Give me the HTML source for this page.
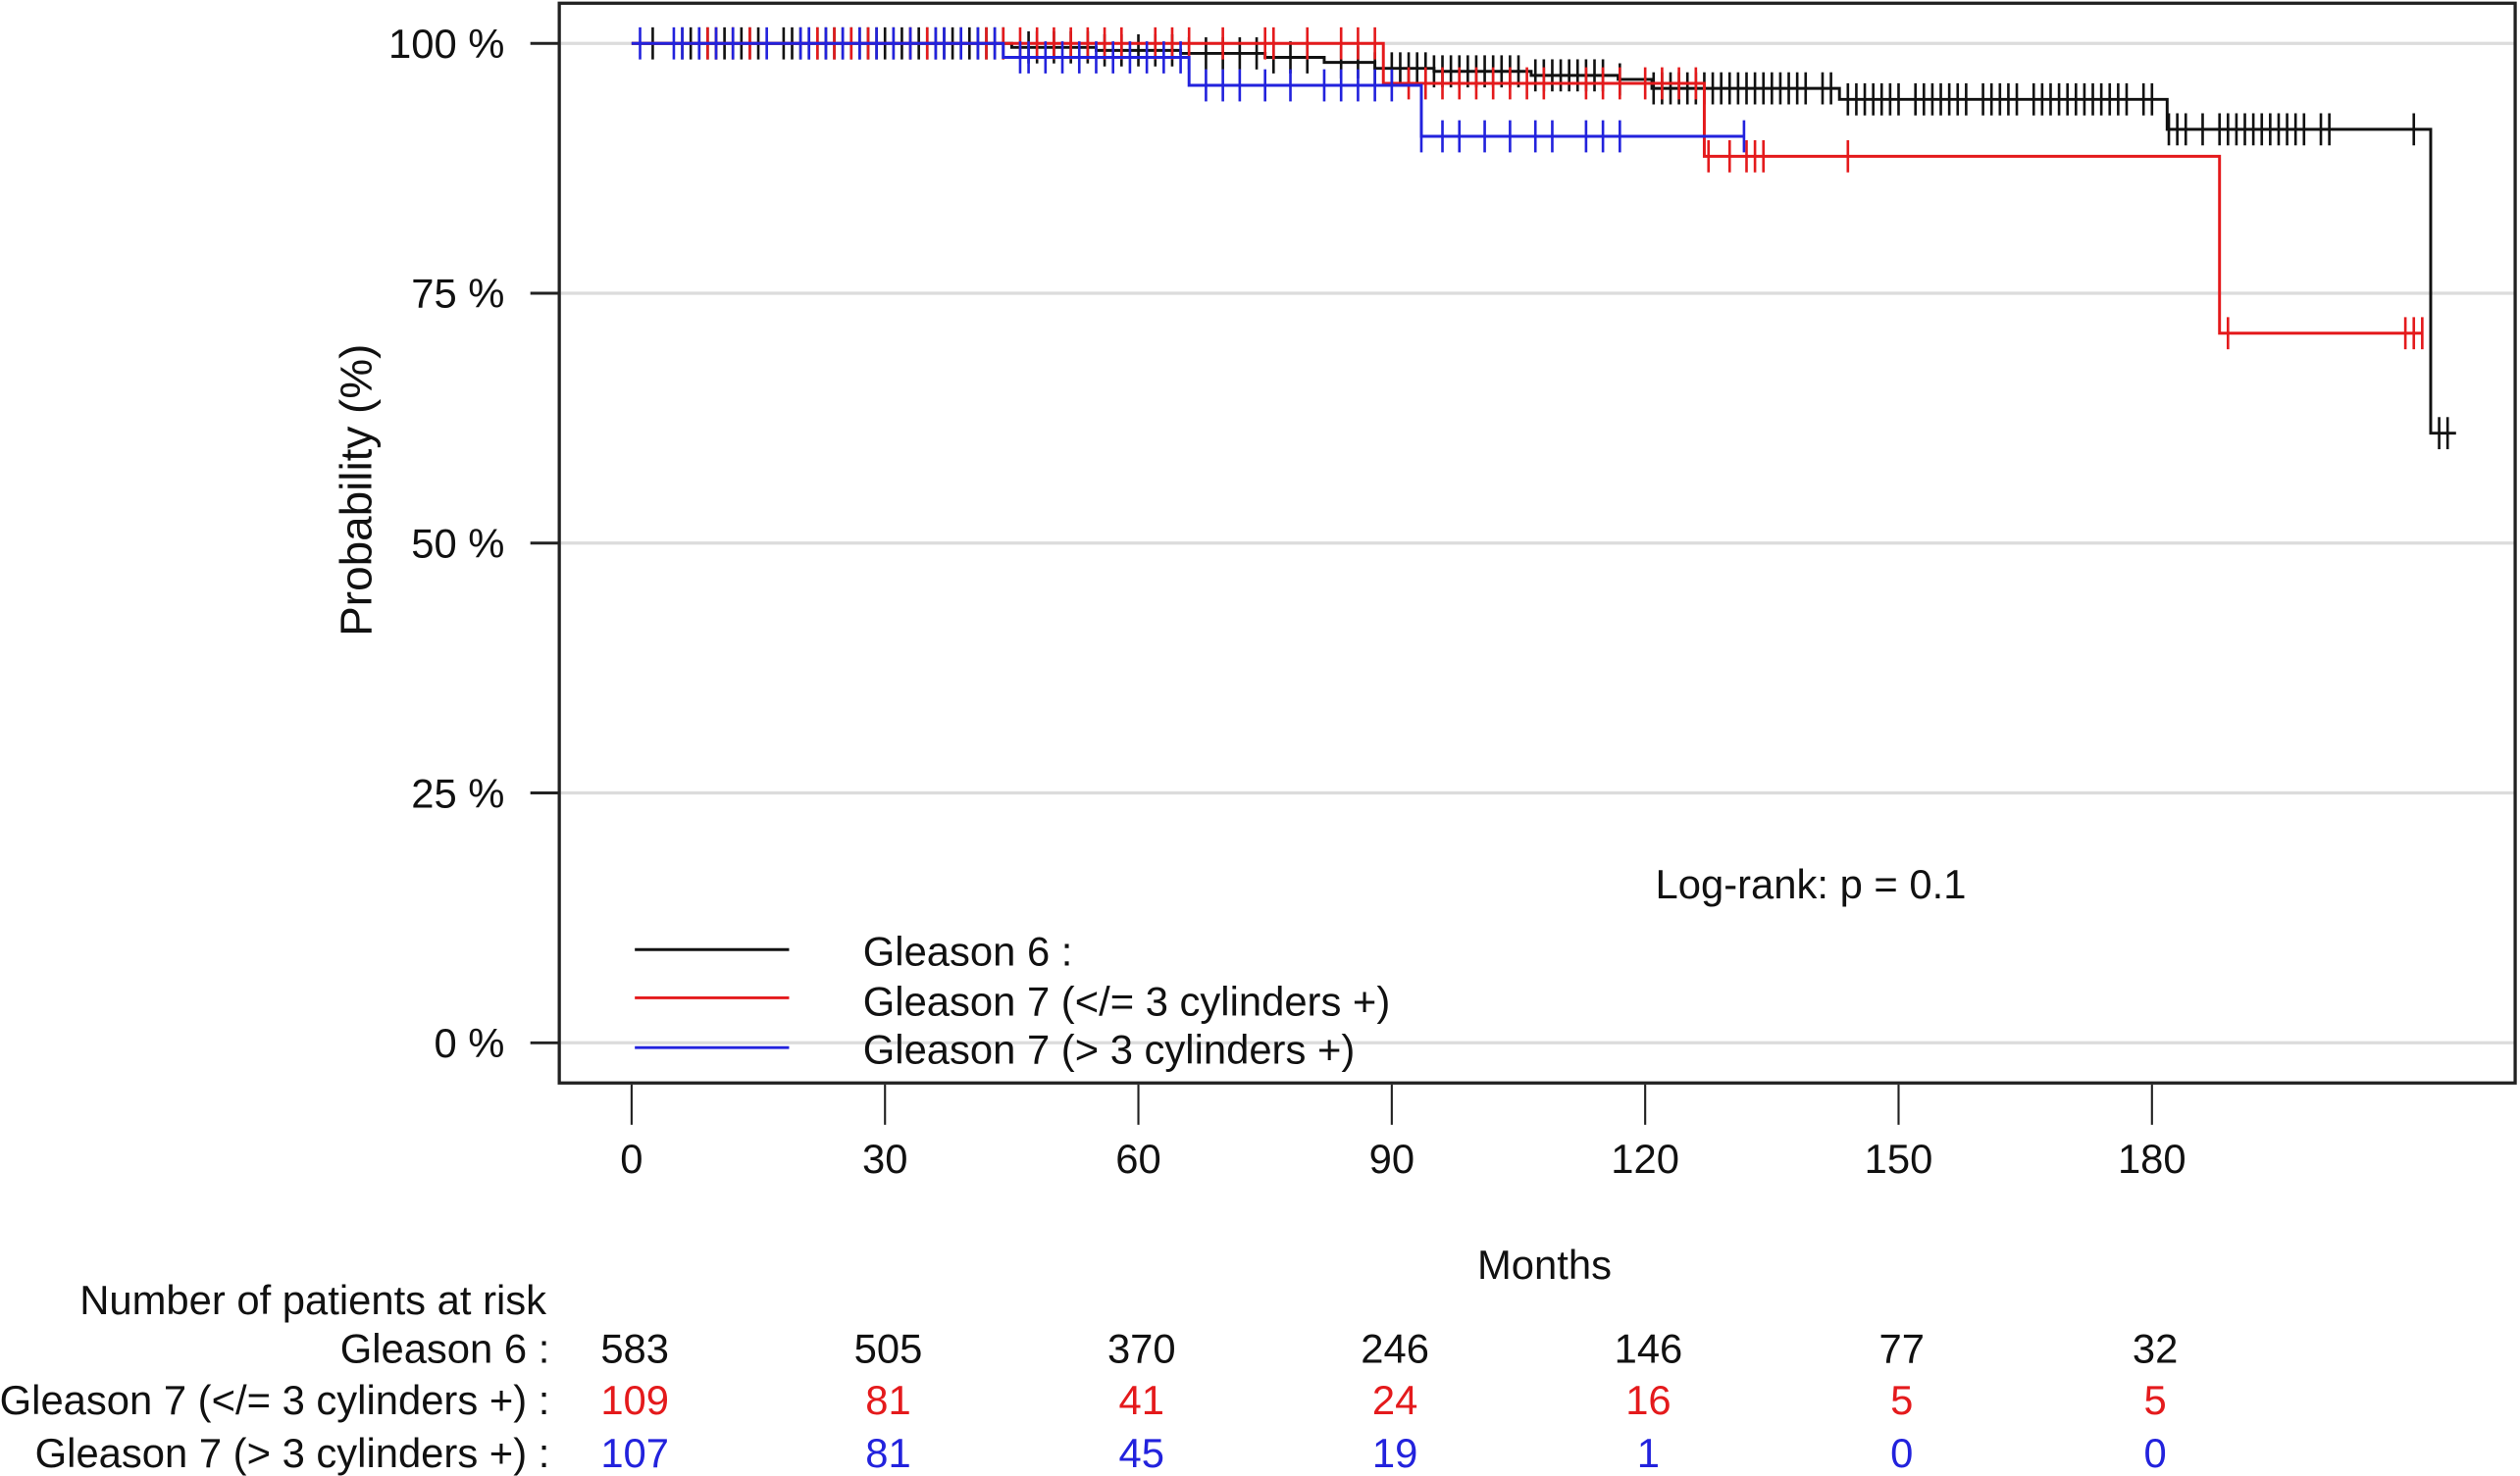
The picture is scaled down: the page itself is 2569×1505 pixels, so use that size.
<!DOCTYPE html>
<html><head><meta charset="utf-8"><style>
html,body{margin:0;padding:0;background:#fff;}
svg{display:block;font-family:"Liberation Sans",Arial,sans-serif;}
</style></head><body>
<svg id="chart" width="2569" height="1505" viewBox="0 0 1568 918.6" preserveAspectRatio="none" xmlns="http://www.w3.org/2000/svg">
<g id="grid"></g>
<rect x="348" y="2" width="1217" height="672" fill="none" stroke="#222" stroke-width="2"/>
<g id="axes"></g>
<g id="curves"></g>
<text transform="translate(231,305) rotate(-90)" text-anchor="middle" font-size="28" fill="#111">Probability (%)</text>
<text x="961" y="796" text-anchor="middle" font-size="25.5" fill="#111">Months</text>
<text x="1030" y="559" font-size="25.5" fill="#111">Log-rank: p = 0.1</text>
<g font-size="25.5" fill="#111">
<line x1="395" x2="491" y1="591" y2="591" stroke="#111" stroke-width="1.8"/>
<text x="537" y="601">Gleason 6 :</text>
<line x1="395" x2="491" y1="621" y2="621" stroke="#e41a1c" stroke-width="1.8"/>
<text x="537" y="632">Gleason 7 (&lt;/= 3 cylinders +)</text>
<line x1="395" x2="491" y1="652" y2="652" stroke="#2222dd" stroke-width="1.8"/>
<text x="537" y="662">Gleason 7 (&gt; 3 cylinders +)</text>
</g>
<g id="risk" font-size="25.5"></g>
</svg>
<script>
const xTicks=[0,30,60,90,120,150,180];
const yTicks=[0,25,50,75,100];
const yTickLabels=["0 %","25 %","50 %","75 %","100 %"];
const g6Times=[0,45,55,65,75,82,88,95,106.5,116.8,120.8,143,181.8,213];
const g6Surv=[100,99.6,99.3,99,98.6,98.1,97.5,97.2,96.8,96.4,95.5,94.4,91.4,61];
const g6End=216;
const g7aTimes=[0,89,127,188];
const g7aSurv=[100,96,88.7,71];
const g7aEnd=212;
const g7bTimes=[0,44,66,93.5];
const g7bSurv=[100,98.6,95.8,90.7];
const g7bEnd=131.7;
const g6Cens=[2.5,6,7,8,9,10,11,12,13,14,15,18,19,20,21,22,23,24,25,26,27,28,29,30,31,32,33,34,35,36,37,38,39,40,41,42,43,44,47,48,50,52,54,56,58,60,62,64,66,68,70,72,74,76,78,80,84,86,88,90,91,92,93,94,95,96,97,98,99,100,101,102,103,104,105,107,108,109,110,111,112,113,114,115,117,121,122,123,124,125,126,127,128,129,130,131,132,133,134,135,136,137,138,139,141,142,144,145,146,147,148,149,150,152,153,154,155,156,157,158,160,161,162,163,164,166,167,168,169,170,171,172,173,174,175,176,177,179,180,182,183,184,186,188,189,190,191,192,193,194,195,196,197,198,200,201,211,214,215];
const g7aCens=[9,10,12,14,22,24,26,28,33,35,42,44,46,48,50,52,54,56,58,62,64,66,70,75,76,80,84,86,88,92,94,96,98,100,102,104,106,108,113,115,117,120,122,124,126,127.5,130,132,133,134,144,189,210,211,212];
const g7bCens=[1,5,6,8,10,12,16,20,21,23,25,27,29,31,33,36,37,39,41,43,46,47,49,51,53,55,57,59,61,63,65,68,70,72,75,78,82,84,86,88,90,93.5,96,98,101,104,107,109,113,115,117,131.7];
const riskRows=["Gleason 6 :","Gleason 7 (</= 3 cylinders +) :","Gleason 7 (> 3 cylinders +) :"];
const riskG6=[583,505,370,246,146,77,32];
const riskG7a=[109,81,41,24,16,5,5];
const riskG7b=[107,81,45,19,1,0,0];

const NS="http://www.w3.org/2000/svg";
const X=m=>393+m*(1339-393)/180;
const Y=p=>649-p*(649-27)/100;
function mk(tag,attrs,parent,txt){const e=document.createElementNS(NS,tag);for(const k in attrs)e.setAttribute(k,attrs[k]);if(txt!==undefined)e.textContent=txt;parent.appendChild(e);return e;}
const grid=document.getElementById('grid'),axes=document.getElementById('axes'),curves=document.getElementById('curves'),risk=document.getElementById('risk');
yTicks.forEach((v,i)=>{
  let l=mk('line',{x1:349,x2:1565,y1:Y(v),y2:Y(v),stroke:'#dcdcdc','stroke-width':2},grid);
  
  
  let t=mk('line',{x1:330,x2:348,y1:Y(v),y2:Y(v),stroke:'#222','stroke-width':1.8},axes);
  
  
  let tx=mk('text',{x:314,y:Y(v)+9,'text-anchor':'end','font-size':25.5,fill:'#111'},axes,yTickLabels[i]);
  
  
});
xTicks.forEach(v=>{
  let t=mk('line',{x1:X(v),x2:X(v),y1:675,y2:700,stroke:'#222','stroke-width':1.3},axes);
  
  
  let tx=mk('text',{x:X(v),y:730,'text-anchor':'middle','font-size':25.5,fill:'#111'},axes,String(v));
  
  
});
function survAt(times,surv,m){let s=surv[0];for(let i=0;i<times.length;i++){if(times[i]<=m)s=surv[i];}return s;}
function drawCurve(times,surv,end,cens,color,name){
  let d='M'+X(times[0])+','+Y(surv[0]);
  for(let i=1;i<times.length;i++){d+=' H'+X(times[i])+' V'+Y(surv[i]);}
  d+=' H'+X(end);
  const p=mk('path',{d:d,fill:'none',stroke:color,'stroke-width':1.8},curves);
  
  
  cens.forEach(c=>{
    const y=Y(survAt(times,surv,c));
    const t=mk('line',{x1:X(c),x2:X(c),y1:y-10,y2:y+10,stroke:color,'stroke-width':1.6},curves);
    
    
  });
}
drawCurve(g6Times,g6Surv,g6End,g6Cens,'#111','gleason6');
drawCurve(g7aTimes,g7aSurv,g7aEnd,g7aCens,'#e41a1c','gleason7-le3');
drawCurve(g7bTimes,g7bSurv,g7bEnd,g7bCens,'#2222dd','gleason7-gt3');
let h=mk('text',{x:340,y:818,'text-anchor':'end',fill:'#111'},risk,'Number of patients at risk');


const rowY=[848,880,913],rowCol=['#111','#e41a1c','#2222dd'],rowData=[riskG6,riskG7a,riskG7b];
riskRows.forEach((r,i)=>{
  let t=mk('text',{x:342,y:rowY[i],'text-anchor':'end',fill:'#111'},risk,r);
  
  
  rowData[i].forEach((v,j)=>{
    let n=mk('text',{x:X(xTicks[j])+2,y:rowY[i],'text-anchor':'middle',fill:rowCol[i]},risk,String(v));
    
    
  });
});
</script>
</body></html>
